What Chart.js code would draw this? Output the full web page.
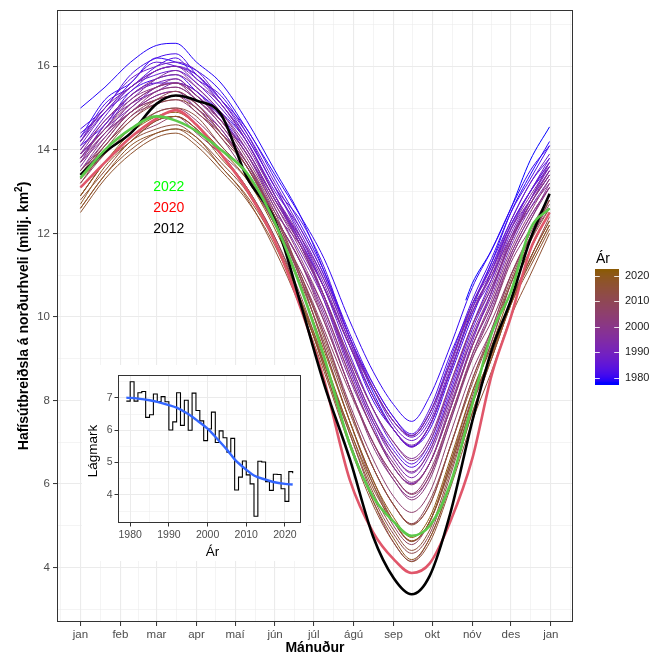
<!DOCTYPE html>
<html><head><meta charset="utf-8">
<script src="https://cdn.jsdelivr.net/npm/chart.js@4.4.0/dist/chart.umd.min.js"></script>
<style>
html,body{margin:0;padding:0;background:#fff;}
#wrap{position:relative;width:649px;height:656px;overflow:hidden;}
#main{position:absolute;left:0;top:0;}
#inset{position:absolute;left:82px;top:365px;}
</style></head><body>
<div id="wrap"><canvas id="main" width="649" height="656"></canvas><canvas id="inset" width="226" height="196"></canvas></div>
<script>
// ---------- DATA ----------
const days = [1, 20, 40, 60, 75, 91, 110, 130, 152, 172, 190, 210, 228, 244, 258, 272, 288, 305, 320, 335, 350, 365];
const days1978 = [300, 305, 320, 335, 350, 365];
const ext1978 = [10.4, 10.8, 11.6, 12.6, 13.75, 14.55];
const ext1979 = [15.0, 15.5, 16.1, 16.5, 16.55, 16.1, 15.6, 14.7, 13.5, 12.4, 11.1, 9.5, 8.2, 7.3, 6.9, 7.4, 8.7, 10.2, 11.3, 12.5, 13.4, 14.2];
const ext1980 = [14.3, 15.2, 15.6, 16.2, 16.1, 15.9, 15.4, 14.5, 13.4, 12.4, 11.4, 9.9, 8.7, 7.9, 7.5, 8.1, 9.3, 10.7, 11.6, 12.6, 13.5, 14.1];
const ext1981 = [14.1, 14.6, 15.4, 15.7, 15.8, 15.4, 14.9, 14.2, 12.9, 11.8, 10.7, 9.3, 8.0, 7.3, 6.9, 7.3, 8.6, 10.0, 11.1, 12.2, 13.0, 13.6];
const ext1982 = [14.5, 15.0, 15.8, 16.2, 16.3, 15.8, 15.2, 14.5, 13.3, 12.2, 11.1, 9.6, 8.4, 7.6, 7.16, 7.7, 9.0, 10.4, 11.4, 12.5, 13.3, 14.1];
const ext1983 = [14.2, 15.1, 15.5, 16.0, 16.2, 15.7, 15.3, 14.4, 13.1, 12.3, 11.2, 9.5, 8.4, 7.6, 7.2, 7.8, 9.1, 10.3, 11.3, 12.3, 13.2, 13.8];
const ext1984 = [13.9, 14.5, 15.3, 15.6, 15.6, 15.4, 14.8, 13.9, 12.8, 11.7, 10.5, 8.9, 7.6, 6.8, 6.4, 6.9, 8.2, 9.7, 10.7, 11.8, 12.7, 13.4];
const ext1985 = [14.4, 14.9, 15.6, 16.1, 16.0, 15.8, 15.2, 14.3, 13.1, 11.9, 10.7, 9.1, 7.8, 6.9, 6.48, 7.0, 8.3, 9.8, 10.9, 12.1, 13.0, 13.7];
const ext1986 = [14.0, 14.8, 15.5, 15.8, 15.9, 15.6, 15.0, 14.2, 13.0, 12.1, 11.0, 9.5, 8.3, 7.5, 7.12, 7.6, 8.9, 10.3, 11.2, 12.2, 13.0, 13.7];
const ext1987 = [14.2, 14.9, 15.4, 15.9, 16.0, 15.8, 15.1, 14.3, 13.1, 12.0, 10.9, 9.4, 8.1, 7.3, 6.89, 7.4, 8.7, 10.1, 11.1, 12.2, 13.0, 13.8];
const ext1988 = [14.3, 15.0, 15.7, 16.0, 16.1, 15.9, 15.2, 14.4, 13.2, 12.1, 11.0, 9.5, 8.3, 7.4, 7.04, 7.5, 8.8, 10.3, 11.2, 12.3, 13.2, 13.9];
const ext1989 = [13.8, 14.6, 15.3, 15.6, 15.7, 15.3, 14.8, 14.0, 12.8, 11.8, 10.7, 9.3, 8.1, 7.3, 6.88, 7.4, 8.7, 10.1, 10.9, 12.0, 12.8, 13.5];
const ext1990 = [14.1, 14.9, 15.5, 15.9, 16.0, 15.7, 15.1, 14.2, 12.9, 11.7, 10.4, 8.7, 7.4, 6.4, 6.01, 6.5, 7.8, 9.4, 10.6, 11.8, 12.8, 13.6];
const ext1991 = [13.9, 14.5, 15.0, 15.5, 15.6, 15.3, 14.7, 13.9, 12.6, 11.5, 10.4, 8.8, 7.5, 6.7, 6.26, 6.8, 8.1, 9.5, 10.5, 11.7, 12.6, 13.3];
const ext1992 = [13.7, 14.6, 15.1, 15.4, 15.6, 15.4, 14.7, 14.0, 12.8, 11.9, 10.9, 9.4, 8.3, 7.5, 7.16, 7.7, 8.9, 10.3, 11.1, 12.1, 12.8, 13.5];
const ext1993 = [14.2, 15.0, 15.5, 15.9, 16.0, 15.6, 15.1, 14.2, 12.9, 11.8, 10.5, 8.8, 7.5, 6.6, 6.15, 6.7, 8.0, 9.5, 10.6, 11.9, 12.8, 13.7];
const ext1994 = [13.9, 14.7, 15.2, 15.7, 15.9, 15.5, 14.9, 14.1, 12.9, 11.9, 10.8, 9.3, 8.1, 7.3, 6.93, 7.4, 8.7, 10.1, 11.0, 12.1, 12.9, 13.6];
const ext1995 = [13.6, 14.4, 14.9, 15.3, 15.4, 15.1, 14.5, 13.6, 12.4, 11.3, 10.1, 8.5, 7.3, 6.4, 6.0, 6.5, 7.8, 9.3, 10.3, 11.5, 12.4, 13.1];
const ext1996 = [13.5, 14.2, 14.9, 15.2, 15.3, 15.0, 14.4, 13.7, 12.5, 11.7, 10.7, 9.3, 8.3, 7.5, 7.15, 7.7, 8.9, 10.2, 11.0, 11.9, 12.6, 13.2];
const ext1997 = [13.8, 14.4, 15.1, 15.5, 15.7, 15.3, 14.7, 13.9, 12.7, 11.7, 10.5, 9.0, 7.8, 7.0, 6.61, 7.1, 8.4, 9.8, 10.8, 11.9, 12.7, 13.4];
const ext1998 = [14.0, 14.7, 15.3, 15.7, 15.8, 15.5, 14.9, 14.0, 12.8, 11.7, 10.5, 8.9, 7.6, 6.7, 6.29, 6.8, 8.1, 9.6, 10.6, 11.8, 12.7, 13.5];
const ext1999 = [13.7, 14.3, 15.0, 15.4, 15.5, 15.2, 14.6, 13.7, 12.4, 11.3, 10.0, 8.3, 7.0, 6.1, 5.68, 6.2, 7.5, 9.1, 10.2, 11.4, 12.3, 13.2];
const ext2000 = [13.5, 14.3, 14.9, 15.3, 15.4, 15.0, 14.5, 13.6, 12.4, 11.3, 10.2, 8.6, 7.3, 6.5, 6.04, 6.5, 7.9, 9.3, 10.3, 11.5, 12.4, 13.1];
const ext2001 = [13.9, 14.5, 15.2, 15.5, 15.6, 15.2, 14.7, 13.9, 12.7, 11.6, 10.5, 9.0, 7.8, 7.0, 6.56, 7.0, 8.4, 9.8, 10.7, 11.8, 12.7, 13.4];
const ext2002 = [13.7, 14.4, 14.9, 15.4, 15.5, 15.2, 14.6, 13.7, 12.4, 11.3, 9.9, 8.3, 6.9, 6.1, 5.62, 6.1, 7.5, 9.0, 10.1, 11.4, 12.3, 13.1];
const ext2003 = [13.8, 14.5, 15.1, 15.5, 15.6, 15.3, 14.7, 13.8, 12.6, 11.4, 10.2, 8.6, 7.3, 6.4, 5.98, 6.5, 7.8, 9.3, 10.4, 11.6, 12.5, 13.3];
const ext2004 = [13.4, 14.1, 14.8, 15.1, 15.2, 14.9, 14.3, 13.4, 12.2, 11.1, 9.9, 8.3, 7.0, 6.2, 5.77, 6.3, 7.6, 9.1, 10.1, 11.3, 12.1, 12.9];
const ext2005 = [13.2, 13.9, 14.4, 14.9, 15.0, 14.7, 14.1, 13.4, 12.3, 10.9, 9.6, 7.9, 6.6, 5.7, 5.32, 5.8, 7.2, 8.7, 9.7, 11.0, 11.9, 12.7];
const ext2006 = [12.9, 13.7, 14.3, 14.7, 14.8, 14.4, 13.9, 13.3, 12.2, 11.0, 9.7, 8.2, 7.0, 6.2, 5.75, 6.2, 7.6, 9.0, 9.9, 11.0, 11.9, 12.6];
const ext2007 = [13.1, 13.7, 14.3, 14.6, 14.8, 14.5, 13.9, 13.1, 11.9, 10.4, 8.8, 7.0, 5.6, 4.6, 4.15, 4.7, 6.0, 7.7, 9.0, 10.3, 11.4, 12.3];
const ext2008 = [13.4, 14.2, 14.9, 15.2, 15.3, 15.1, 14.4, 13.6, 12.4, 10.9, 9.3, 7.5, 6.0, 5.0, 4.55, 5.1, 6.4, 8.1, 9.4, 10.8, 11.8, 12.8];
const ext2009 = [13.5, 14.1, 14.8, 15.2, 15.3, 14.9, 14.4, 13.7, 12.5, 11.0, 9.6, 7.8, 6.4, 5.5, 5.05, 5.6, 6.9, 8.5, 9.7, 11.0, 12.0, 12.9];
const ext2010 = [13.3, 14.1, 14.7, 15.2, 15.4, 15.1, 14.4, 13.6, 12.3, 10.9, 9.3, 7.5, 6.1, 5.1, 4.62, 5.1, 6.5, 8.2, 9.4, 10.8, 11.9, 12.8];
const ext2011 = [12.9, 13.7, 14.2, 14.7, 14.8, 14.5, 13.9, 13.1, 11.9, 10.5, 8.9, 7.2, 5.7, 4.8, 4.34, 4.8, 6.2, 7.9, 9.1, 10.4, 11.4, 12.4];
const ext2013 = [13.2, 14.0, 14.7, 15.1, 15.2, 15.0, 14.3, 13.6, 12.4, 11.0, 9.5, 7.8, 6.4, 5.5, 5.04, 5.5, 6.9, 8.5, 9.6, 10.9, 11.9, 12.8];
const ext2014 = [13.3, 13.9, 14.5, 14.9, 15.0, 14.8, 14.1, 13.4, 12.2, 10.8, 9.4, 7.7, 6.4, 5.5, 5.02, 5.5, 6.9, 8.4, 9.6, 10.8, 11.8, 12.6];
const ext2015 = [12.8, 13.5, 14.2, 14.5, 14.6, 14.3, 13.7, 13.0, 11.8, 10.3, 8.9, 7.2, 5.8, 4.9, 4.41, 4.9, 6.3, 7.9, 9.0, 10.3, 11.3, 12.2];
const ext2016 = [12.6, 13.4, 14.0, 14.4, 14.5, 14.2, 13.6, 12.85, 11.6, 10.2, 8.7, 6.9, 5.5, 4.6, 4.14, 4.6, 5.9, 7.5, 8.7, 10.0, 11.0, 12.0];
const ext2017 = [12.5, 13.3, 13.9, 14.3, 14.4, 14.1, 13.5, 12.8, 11.7, 10.3, 8.9, 7.3, 5.9, 5.1, 4.64, 5.1, 6.5, 8.0, 9.1, 10.3, 11.2, 12.1];
const ext2018 = [12.6, 13.4, 14.1, 14.4, 14.5, 14.3, 13.6, 12.9, 11.8, 10.4, 9.0, 7.3, 6.0, 5.1, 4.63, 5.1, 6.4, 8.0, 9.1, 10.4, 11.3, 12.2];
const ext2019 = [12.7, 13.6, 14.2, 14.7, 14.8, 14.5, 13.8, 13.1, 11.8, 10.4, 8.8, 7.0, 5.6, 4.7, 4.19, 4.7, 6.0, 7.7, 9.0, 10.3, 11.4, 12.3];
const ext2021 = [12.9, 13.7, 14.4, 14.8, 14.9, 14.6, 14.0, 13.3, 12.1, 10.7, 9.2, 7.5, 6.1, 5.2, 4.72, 5.2, 6.6, 8.2, 9.3, 10.6, 11.6, 12.5];
// highlighted years
const ext2012 = [13.4, 13.95, 14.4, 15.1, 15.3, 15.18, 14.85, 13.35, 12.3, 10.3, 8.4, 6.6, 4.75, 3.75, 3.36, 3.8, 5.3, 7.5, 9.2, 10.4, 11.85, 12.95];
const ext2020 = [13.1, 13.7, 14.3, 14.75, 14.95, 14.6, 13.9, 13.05, 11.8, 10.2, 8.5, 6.1, 4.85, 4.2, 3.87, 4.1, 5.1, 6.6, 8.6, 10.0, 11.6, 12.5];
const ext2022 = [13.33, 14.0, 14.5, 14.8, 14.7, 14.45, 14.0, 13.45, 12.25, 10.7, 9.05, 6.95, 5.7, 5.1, 4.76, 5.0, 6.0, 7.9, 9.6, 10.6, 12.1, 12.6];

const gradYears = [1979,1980,1981,1982,1983,1984,1985,1986,1987,1988,1989,1990,1991,1992,1993,1994,1995,1996,1997,1998,1999,2000,2001,2002,2003,2004,2005,2006,2007,2008,2009,2010,2011,2013,2014,2015,2016,2017,2018,2019,2021];
const gradSeries = [ext1979,ext1980,ext1981,ext1982,ext1983,ext1984,ext1985,ext1986,ext1987,ext1988,ext1989,ext1990,ext1991,ext1992,ext1993,ext1994,ext1995,ext1996,ext1997,ext1998,ext1999,ext2000,ext2001,ext2002,ext2003,ext2004,ext2005,ext2006,ext2007,ext2008,ext2009,ext2010,ext2011,ext2013,ext2014,ext2015,ext2016,ext2017,ext2018,ext2019,ext2021];

const highlightLabels = ['2022', '2020', '2012'];
const highlightY = [13.1, 12.6, 12.1];
const highlightX = 69.5;

// inset: annual minimum
const minYears = [1979,1980,1981,1982,1983,1984,1985,1986,1987,1988,1989,1990,1991,1992,1993,1994,1995,1996,1997,1998,1999,2000,2001,2002,2003,2004,2005,2006,2007,2008,2009,2010,2011,2012,2013,2014,2015,2016,2017,2018,2019,2020,2021,2022];
const minValues = [6.90,7.50,6.90,7.16,7.20,6.40,6.48,7.12,6.89,7.04,6.88,6.01,6.26,7.16,6.15,6.93,6.00,7.15,6.61,6.29,5.68,6.04,6.56,5.62,5.98,5.77,5.32,5.75,4.15,4.55,5.05,4.62,4.34,3.34,5.04,5.02,4.41,4.14,4.64,4.63,4.19,3.80,4.72,4.67];
const smoothYears = [1979, 1982, 1985, 1987, 1990, 1992, 1995, 1997, 2000, 2002, 2005, 2007, 2010, 2012, 2015, 2017, 2020, 2022];
const smoothValues = [7.01, 6.98, 6.93, 6.88, 6.78, 6.70, 6.50, 6.33, 6.05, 5.80, 5.40, 5.10, 4.78, 4.60, 4.47, 4.40, 4.34, 4.32];

// axis ticks
const monthStarts = [1, 32, 60, 91, 121, 152, 182, 213, 244, 274, 305, 335, 366];
const monthLabels = ['jan','feb','mar','apr','maí','jún','júl','ágú','sep','okt','nóv','des','jan'];
const yMajor = [4, 6, 8, 10, 12, 14, 16];
const legendYears = [1980, 1990, 2000, 2010, 2020];
const insetXMajor = [1980, 1990, 2000, 2010, 2020];
const insetYMajor = [4, 5, 6, 7];

// ---------- STYLE / HELPERS ----------
const FONT = '"Liberation Sans", Arial, Helvetica, sans-serif';
const LOW = '#0000FF', HIGH = '#8B5A05';
const C_LIM = [1978, 2022];
function hex2rgb(h){return [parseInt(h.slice(1,3),16),parseInt(h.slice(3,5),16),parseInt(h.slice(5,7),16)];}
function lin(c){c/=255;return c<=0.04045?c/12.92:Math.pow((c+0.055)/1.055,2.4);}
function unlin(c){c=c<=0.0031308?12.92*c:1.055*Math.pow(c,1/2.4)-0.055;return Math.round(Math.min(1,Math.max(0,c))*255);}
const Xn=0.95047,Yn=1,Zn=1.08883;
function rgb2lab(rgb){const r=lin(rgb[0]),g=lin(rgb[1]),b=lin(rgb[2]);
  const x=(0.4124564*r+0.3575761*g+0.1804375*b)/Xn,y=(0.2126729*r+0.7151522*g+0.0721750*b)/Yn,z=(0.0193339*r+0.1191920*g+0.9503041*b)/Zn;
  const f=t=>t>216/24389?Math.cbrt(t):(24389/27*t+16)/116;
  const fx=f(x),fy=f(y),fz=f(z);return [116*fy-16,500*(fx-fy),200*(fy-fz)];}
function lab2rgb(lab){const fy=(lab[0]+16)/116,fx=fy+lab[1]/500,fz=fy-lab[2]/200;
  const inv=t=>{const t3=t*t*t;return t3>216/24389?t3:(116*t-16)/(24389/27);};
  const x=inv(fx)*Xn,y=inv(fy)*Yn,z=inv(fz)*Zn;
  const r=3.2404542*x-1.5371385*y-0.4985314*z,g=-0.9692660*x+1.8760108*y+0.0415560*z,b=0.0556434*x-0.2040259*y+1.0572252*z;
  return [unlin(r),unlin(g),unlin(b)];}
const labLow=rgb2lab(hex2rgb(LOW)), labHigh=rgb2lab(hex2rgb(HIGH));
function yearColor(yr){let t=(yr-C_LIM[0])/(C_LIM[1]-C_LIM[0]);t=Math.max(0,Math.min(1,t));
  const l=[0,1,2].map(i=>labLow[i]+(labHigh[i]-labLow[i])*t);const c=lab2rgb(l);return 'rgb('+c[0]+','+c[1]+','+c[2]+')';}
function pts(xs, ys){return ys.map((v,i)=>({x:xs[i],y:v}));}

// ---------- MAIN CHART ----------
const datasets = [];
datasets.push({data:pts(days1978,ext1978),borderColor:yearColor(1978),borderWidth:1,order:200});
gradYears.forEach((yr,i)=>{
  datasets.push({data:pts(days,gradSeries[i]),borderColor:yearColor(yr),borderWidth:1,order:150-i});
});
datasets.push({data:pts(days,ext2020),borderColor:'#E0566A',borderWidth:2.6,order:3});
datasets.push({data:pts(days,ext2012),borderColor:'#000000',borderWidth:2.6,order:2});
datasets.push({data:pts(days,ext2022),borderColor:'#5CC94A',borderWidth:2.6,order:1});

const xTicks = [];
xTicks.push((monthStarts[0]-31+monthStarts[0])/2);
monthStarts.forEach((m,i)=>{xTicks.push(m); const nxt = i<monthStarts.length-1?monthStarts[i+1]:m+31; xTicks.push((m+nxt)/2);});
const yTicks = [3,4,5,6,7,8,9,10,11,12,13,14,15,16,17];

const GRID = '#EBEBEB';
const mainDecor = {
  id:'mainDecor',
  afterDatasetsDraw(chart){
    const ctx=chart.ctx, xs=chart.scales.x, ys=chart.scales.y;
    ctx.save();
    ctx.font='14px '+FONT; ctx.textAlign='center'; ctx.textBaseline='middle';
    const cols=['#00FF00','#FF0000','#000000'];
    highlightLabels.forEach((t,i)=>{ctx.fillStyle=cols[i];ctx.fillText(t,xs.getPixelForValue(highlightX),ys.getPixelForValue(highlightY[i]));});
    ctx.restore();
  },
  afterDraw(chart){
    const ctx=chart.ctx, a=chart.chartArea;
    ctx.save();
    ctx.strokeStyle='#333333'; ctx.lineWidth=1;
    ctx.strokeRect(Math.round(a.left)+0.5,Math.round(a.top)+0.5,Math.round(a.right-a.left)-1,Math.round(a.bottom-a.top)-1);
    // axis titles
    ctx.fillStyle='#000'; ctx.font='bold 14px '+FONT; ctx.textAlign='center'; ctx.textBaseline='alphabetic';
    ctx.fillText('Mánuður',(a.left+a.right)/2,652);
    ctx.save();
    ctx.translate(28,(a.top+a.bottom)/2); ctx.rotate(-Math.PI/2);
    const main='Hafísútbreiðsla á norðurhveli (millj. km', sup='2', end=')';
    ctx.font='bold 14px '+FONT; const w1=ctx.measureText(main).width, w3=ctx.measureText(end).width;
    ctx.font='bold 10px '+FONT; const w2=ctx.measureText(sup).width;
    let x0=-(w1+w2+w3)/2; ctx.textAlign='left';
    ctx.font='bold 14px '+FONT; ctx.fillText(main,x0,0);
    ctx.font='bold 10px '+FONT; ctx.fillText(sup,x0+w1,-6);
    ctx.font='bold 14px '+FONT; ctx.fillText(end,x0+w1+w2,0);
    ctx.restore();
    // colour bar legend
    const bx=595,bw=24,btop=269,bbot=385;
    const yOf=yr=>377.7-(yr-1980)*2.55;
    for(let py=btop;py<bbot;py++){
      const yr=1980+(377.7-(py+0.5))/2.55;
      ctx.fillStyle=yearColor(yr); ctx.fillRect(bx,py,bw,1);
    }
    ctx.strokeStyle='rgba(255,255,255,0.85)'; ctx.lineWidth=1;
    legendYears.forEach(yr=>{const py=Math.round(yOf(yr))+0.5;
      ctx.beginPath();ctx.moveTo(bx,py);ctx.lineTo(bx+4.8,py);ctx.moveTo(bx+bw-4.8,py);ctx.lineTo(bx+bw,py);ctx.stroke();});
    ctx.fillStyle='#1A1A1A'; ctx.font='11px '+FONT; ctx.textAlign='left'; ctx.textBaseline='middle';
    legendYears.forEach(yr=>ctx.fillText(String(yr),bx+bw+6,yOf(yr)));
    ctx.font='14px '+FONT; ctx.textBaseline='alphabetic'; ctx.fillStyle='#000';
    ctx.fillText('Ár',bx+1,263);
    ctx.restore();
  }
};

new Chart(document.getElementById('main'),{
  type:'line',
  data:{datasets},
  options:{
    responsive:false, animation:false, devicePixelRatio:1,
    layout:{padding:{left:0,right:76,top:9,bottom:0}},
    plugins:{legend:{display:false},tooltip:{enabled:false}},
    elements:{point:{radius:0},line:{cubicInterpolationMode:'monotone',fill:false}},
    scales:{
      x:{type:'linear',min:-17.2,max:383.2,
        afterBuildTicks:s=>{s.ticks=xTicks.map(v=>({value:v}));},
        afterFit:s=>{s.height=34;},
        border:{display:false},
        ticks:{autoSkip:false,maxRotation:0,minRotation:0,padding:2,color:'#4D4D4D',font:{family:FONT,size:11.5},
          callback:v=>{const k=monthStarts.indexOf(v);return k>=0?monthLabels[k]:'';}},
        grid:{color:GRID,lineWidth:c=>monthStarts.includes(c.tick.value)?1.1:0.55,
          tickColor:c=>monthStarts.includes(c.tick.value)?'#333333':'rgba(0,0,0,0)',tickLength:4,tickWidth:1}
      },
      y:{type:'linear',min:2.697,max:17.35,
        afterBuildTicks:s=>{s.ticks=yTicks.map(v=>({value:v}));},
        afterFit:s=>{s.width=57;},
        border:{display:false},
        ticks:{autoSkip:false,padding:3,color:'#4D4D4D',font:{family:FONT,size:11.5},
          callback:v=>yMajor.includes(v)?String(v):''},
        grid:{color:GRID,lineWidth:c=>yMajor.includes(c.tick.value)?1.1:0.55,
          tickColor:c=>yMajor.includes(c.tick.value)?'#333333':'rgba(0,0,0,0)',tickLength:4,tickWidth:1}
      }
    }
  },
  plugins:[mainDecor]
});

// ---------- INSET ----------
const insetXTicks=[1980,1985,1990,1995,2000,2005,2010,2015,2020];
const insetYTicks=[3.5,4,4.5,5,5.5,6,6.5,7,7.5];
const insetDecor={
  id:'insetDecor',
  beforeDraw(chart){const ctx=chart.ctx;ctx.save();ctx.fillStyle='#fff';ctx.fillRect(0,0,chart.width,chart.height);ctx.restore();},
  afterDraw(chart){
    const ctx=chart.ctx,a=chart.chartArea;ctx.save();
    ctx.strokeStyle='#333333';ctx.lineWidth=1;
    ctx.strokeRect(Math.round(a.left)+0.5,Math.round(a.top)+0.5,Math.round(a.right-a.left)-1,Math.round(a.bottom-a.top)-1);
    ctx.fillStyle='#000';ctx.font='13.5px '+FONT;ctx.textAlign='center';ctx.textBaseline='alphabetic';
    ctx.fillText('Ár',(a.left+a.right)/2+3,191);
    ctx.translate(14.5,(a.top+a.bottom)/2+2);ctx.rotate(-Math.PI/2);
    ctx.fillText('Lágmark',0,0);
    ctx.restore();
  }
};
new Chart(document.getElementById('inset'),{
  type:'line',
  data:{datasets:[
    {data:pts(smoothYears,smoothValues),borderColor:'#3366FF',borderWidth:2.4,cubicInterpolationMode:'monotone',order:0},
    {data:pts(minYears,minValues),borderColor:'#000000',borderWidth:1.1,stepped:'before',order:1}
  ]},
  options:{
    responsive:false,animation:false,devicePixelRatio:1,
    layout:{padding:{left:0,right:7,top:10,bottom:0}},
    plugins:{legend:{display:false},tooltip:{enabled:false}},
    elements:{point:{radius:0},line:{fill:false}},
    scales:{
      x:{type:'linear',min:1976.85,max:2024.15,
        afterBuildTicks:s=>{s.ticks=insetXTicks.map(v=>({value:v}));},
        afterFit:s=>{s.height=38;},
        border:{display:false},
        ticks:{autoSkip:false,maxRotation:0,minRotation:0,padding:2,color:'#4D4D4D',font:{family:FONT,size:10.5},
          callback:v=>insetXMajor.includes(v)?String(v):''},
        grid:{color:GRID,lineWidth:c=>insetXMajor.includes(c.tick.value)?1:0.5,
          tickColor:c=>insetXMajor.includes(c.tick.value)?'#333333':'rgba(0,0,0,0)',tickLength:3.5,tickWidth:1}
      },
      y:{type:'linear',min:3.13,max:7.71,
        afterBuildTicks:s=>{s.ticks=insetYTicks.map(v=>({value:v}));},
        afterFit:s=>{s.width=36;},
        border:{display:false},
        ticks:{autoSkip:false,padding:2,color:'#4D4D4D',font:{family:FONT,size:10.5},
          callback:v=>insetYMajor.includes(v)?String(v):''},
        grid:{color:GRID,lineWidth:c=>insetYMajor.includes(c.tick.value)?1:0.5,
          tickColor:c=>insetYMajor.includes(c.tick.value)?'#333333':'rgba(0,0,0,0)',tickLength:3.5,tickWidth:1}
      }
    }
  },
  plugins:[insetDecor]
});
</script>
</body></html>
